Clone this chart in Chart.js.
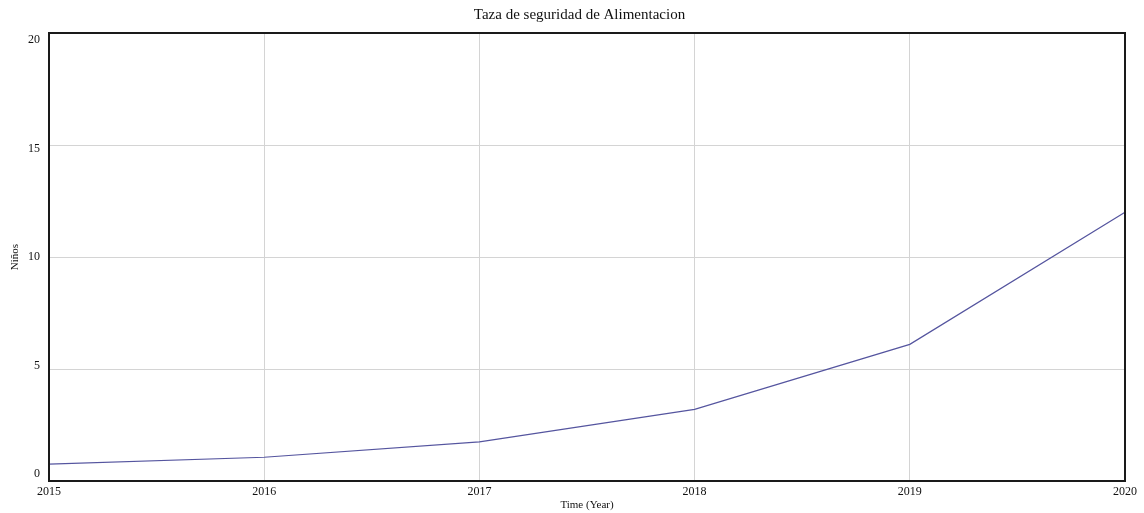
<!DOCTYPE html>
<html>
<head>
<meta charset="utf-8">
<script src="https://cdn.jsdelivr.net/npm/chart.js@4"></script>
<style>
  html, body { margin: 0; padding: 0; background: #fff; }
  #wrap { width: 1144px; height: 513px; }
</style>
</head>
<body>
<div id="wrap"><canvas id="myChart"></canvas></div>
<script>
const years = ['2015', '2016', '2017', '2018', '2019', '2020'];
const ninos = [0.75, 1.06, 1.75, 3.2, 6.1, 12.0];
const yTicks = [0, 5, 10, 15, 20];

const serif = "'Liberation Serif', 'Times New Roman', serif";

// marco negro alrededor del area del grafico + etiquetas del eje y
// (como en Vensim, las etiquetas extremas quedan dentro del rango)
const frame = {
  id: 'frame',
  afterLayout(chart) {
    // centrar el titulo un poco mas a la derecha
    chart.titleBlock.left += 34;
  },
  afterDraw(chart) {
    const a = chart.chartArea;
    const c = chart.ctx;
    const y = chart.scales.y;
    c.save();
    c.strokeStyle = '#1a1a1a';
    c.lineWidth = 2;
    c.strokeRect(a.left, a.top, a.right - a.left, a.bottom - a.top);

    c.fillStyle = '#111';
    c.font = '12px ' + serif;
    c.textAlign = 'right';
    c.textBaseline = 'middle';
    const inset = 7;
    const k = (a.bottom - a.top - 2 * inset) / (a.bottom - a.top);
    yTicks.forEach(v => {
      const p = y.getPixelForValue(v);
      c.fillText(String(v), a.left - 9, a.top + inset + (p - a.top) * k);
    });
    c.restore();
  }
};

const ctx = document.getElementById('myChart').getContext('2d');
const myChart = new Chart(ctx, {
  type: 'line',
  data: {
    labels: years,
    datasets: [{
      label: 'Niños',
      data: ninos,
      borderColor: '#55559f',
      borderWidth: 1.2,
      pointRadius: 0,
      tension: 0,
      fill: false
    }]
  },
  options: {
    responsive: true,
    maintainAspectRatio: false,
    animation: false,
    layout: { padding: { left: 0, right: 19, top: 0, bottom: 0 } },
    plugins: {
      legend: { display: false },
      tooltip: { enabled: false },
      title: {
        display: true,
        text: 'Taza de seguridad de Alimentacion',
        color: '#111',
        font: { family: serif, size: 15, weight: 'normal' },
        padding: { top: 6, bottom: 9 }
      }
    },
    scales: {
      x: {
        offset: false,
        grid: { color: '#d4d4d4', lineWidth: 1, drawTicks: false },
        border: { display: false },
        ticks: {
          color: '#111',
          font: { family: serif, size: 12 },
          padding: 4,
          maxRotation: 0,
          autoSkip: false
        },
        title: {
          display: true,
          text: 'Time (Year)',
          color: '#111',
          font: { family: serif, size: 11 },
          padding: { top: 0, bottom: 1.4 }
        },
        afterFit(scale) { scale.height = 32; }
      },
      y: {
        min: 0,
        max: 20,
        afterBuildTicks(scale) { scale.ticks = yTicks.map(v => ({ value: v })); },
        grid: { color: '#d4d4d4', lineWidth: 1, drawTicks: false },
        border: { display: false },
        ticks: { display: false },
        title: {
          display: true,
          text: 'Niños',
          color: '#111',
          font: { family: serif, size: 11 },
          padding: { top: 8.4, bottom: 0 }
        },
        afterFit(scale) { scale.width = 49; }
      }
    }
  },
  plugins: [frame]
});
</script>
</body>
</html>
